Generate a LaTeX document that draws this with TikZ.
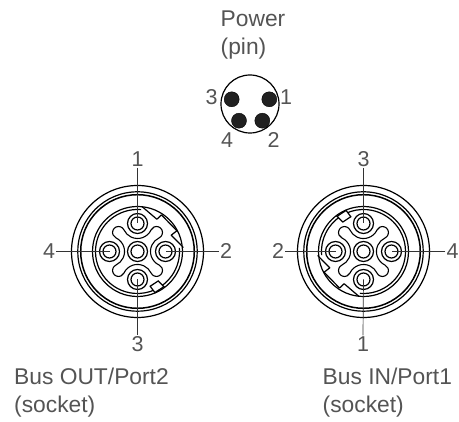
\documentclass[tikz,border=0pt]{standalone}
\usepackage{fontspec}
\setmainfont{Liberation Sans}
\definecolor{labelgray}{gray}{0.33}
\definecolor{pindark}{gray}{0.13}
\tikzset{
	ringline/.style={line width=1.2pt, black},
	axisline/.style={line width=0.7pt, black!80},
	conlabel/.style={text=labelgray, font=\fontsize{21.5}{24}\selectfont, inner sep=1pt},
	caption/.style={text=labelgray, font=\fontsize{22.8}{28.5}\selectfont, align=left, anchor=west, inner sep=0pt},
	contact/.style={circle, draw, line width=1.2pt, minimum size=20pt, inner sep=0pt},
	solidpin/.style={circle, fill=pindark, draw=black, minimum size=15pt, inner sep=0pt}
}

\begin{document}
\begin{tikzpicture}[x=1pt, y=1pt]
\useasboundingbox (0, 0) rectangle (459, 422);

% power connector
\coordinate (powermid) at (250, 318);
\draw[ringline] (powermid) circle (29);
\node[solidpin] (power3) at (231.7, 322.7) {};
\node[solidpin] (power1) at (269.3, 322.7) {};
\node[solidpin] (power4) at (239, 301.3) {};
\node[solidpin] (power2) at (262.3, 301.3) {};

% the two bus sockets, one is the other turned round
\foreach \cx/\rot/\name in {137.5/0/busout, 363.5/180/busin}
{
	\begin{scope}[shift={(\cx, 170.5)}, rotate=\rot]
		\draw[ringline] (0, 0) circle (66);
		\draw[ringline] (0, 0) circle (59.7);
		\draw[ringline, line width=1.5pt] (0, 0) circle (56.8);
		\draw[ringline] (0, 0) circle (45);
		\draw[ringline] (85:42) arc[start angle=85, end angle=365, radius=42];
		% coding key
		\draw[ringline, line join=round] (84:45) -- (59:37.6) -- (56.8:43.7) -- (27.8:44.5) -- (25.8:37.5) -- (5:46);
		% small key
		\draw[ringline, fill=white] (-70:37) -- (-55:36) -- (-53:44) -- (-67:44.6) -- cycle;
		% cross between the contacts
		\draw[ringline, line width=1.1pt] (19, 19) ++(-64.65:6)
			\foreach \a in {0, 90, 180, 270}
			{
				arc[start angle=-64.65+\a, end angle=154.65+\a, radius=6]
				arc[start angle=-25.35+\a, end angle=-154.65+\a, radius=15]
			} -- cycle;
		\node[contact] (\name c) at (0, 0) {};
		\draw[ringline] (0, 0) circle (6.5);
		\foreach \a in {0, 90, 180, 270}
		{
			\node[contact] (\name\a) at (\a:28) {};
			\draw[ringline] (\a:28) circle (6.5);
		}
	\end{scope}
}

% pin numbers
\node[conlabel] (lab3) at (211.7, 325) {3};
\node[conlabel] (lab1) at (286, 325) {1};
\node[conlabel] (lab4) at (227, 282) {4};
\node[conlabel] (lab2) at (273.5, 282) {2};

\node[conlabel] (outa) at (137.5, 263) {1};
\node[conlabel] (outb) at (226, 170.5) {2};
\node[conlabel] (outc) at (137.5, 78) {3};
\node[conlabel] (outd) at (49, 170.5) {4};
\node[conlabel] (ina) at (363, 78) {1};
\node[conlabel] (inb) at (278, 170.5) {2};
\node[conlabel] (inc) at (363.5, 263) {3};
\node[conlabel] (ind) at (452.5, 170.5) {4};

\draw[axisline] (outa.south) -- (busout90.center);
\draw[axisline] (outb.west) -- (busout0.center);
\draw[axisline] (outc.north) -- (busout270.center);
\draw[axisline] (outd.east) -- (busout180.center);
\draw[axisline] (ina.north) -- (busin90.center);
\draw[axisline] (inb.east) -- (busin0.center);
\draw[axisline] (inc.south) -- (busin270.center);
\draw[axisline] (ind.west) -- (busin180.center);

% captions
\node[caption] (powertext) at (220.5, 387) {Power\\(pin)};
\node[caption] (outtext) at (14, 29.5) {Bus OUT/Port2\\(socket)};
\node[caption] (intext) at (322.5, 29.5) {Bus IN/Port1\\(socket)};
\end{tikzpicture}
\end{document}
